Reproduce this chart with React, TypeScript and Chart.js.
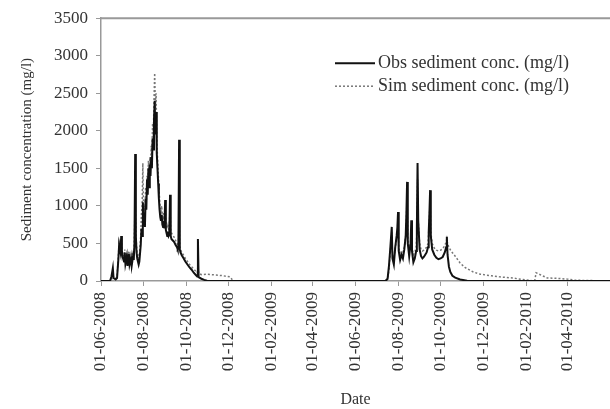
import React, { useEffect, useRef } from "react";
import { Chart, registerables } from "chart.js";

Chart.register(...registerables);

const START_DATE = "01-06-2008";
const END_DAY = 730;

const tickLabels = [
  "01-06-2008", "01-08-2008", "01-10-2008", "01-12-2008",
  "01-02-2009", "01-04-2009", "01-06-2009", "01-08-2009",
  "01-10-2009", "01-12-2009", "01-02-2010", "01-04-2010",
];

const yTicks = [0, 500, 1000, 1500, 2000, 2500, 3000, 3500];

// days since 01-06-2008
const obsDays = [
  0, 13, 15, 17, 18, 21, 23, 25, 26, 28, 29, 30, 31, 33, 34, 35, 37, 38, 40, 41, 43, 44, 46, 47, 48, 49, 50, 51, 52, 54, 55,
  57, 58, 59, 60, 61, 62, 63, 64, 65, 66, 67, 68, 69, 70, 71, 72, 73, 74, 75, 76, 77, 78, 79, 80, 81, 82, 83, 84, 85, 86,
  87, 88, 89, 90, 91, 92, 93, 94, 95, 96, 97, 98, 99, 100, 101, 103, 105, 107, 109, 110, 111, 112, 113, 114, 116, 118, 121,
  124, 127, 130, 133, 136, 138, 139, 140, 144, 148, 152, 158,
  408, 411, 413, 415, 417, 418, 420, 422, 424, 425, 426, 427, 429, 431, 433, 435, 437, 438, 439, 440, 442, 444, 445, 446,
  448, 450, 452, 453, 454, 455, 457, 459, 461, 463, 465, 467, 469, 470, 471, 472, 473, 475, 478, 481, 484, 487, 490, 493,
  495, 496, 497, 499, 501, 504, 508, 515, 525, 535, 730,
];
const obsValues = [
  0, 0, 60, 170, 40, 20, 40, 300, 480, 380, 600, 400, 320, 260, 380, 230, 330, 200, 360, 220, 300, 200, 330, 280, 500, 1690, 600, 380, 300, 220, 260,
  480, 700, 600, 1050, 750, 900, 720, 1100, 950, 1350, 1150, 1500, 1250, 1550, 1400, 1650, 1500, 1900, 1750, 2150, 2400, 1950, 2250, 1700, 1500, 1300, 1100, 950, 850, 800,
  880, 750, 720, 800, 700, 1080, 680, 640, 600, 660, 600, 620, 1150, 600, 560, 540, 520, 480, 450, 420, 430, 1880, 420, 380, 340, 310, 260,
  220, 180, 150, 110, 80, 60, 560, 50, 30, 15, 5, 0,
  0, 30, 200, 450, 720, 300, 220, 450, 600, 700, 920, 400, 280, 350, 300, 420, 600, 900, 1320, 500, 330, 500, 810, 400,
  250, 300, 400, 700, 1570, 800, 420, 330, 300, 320, 350, 380, 450, 650, 900, 1210, 600, 420, 350, 310, 290, 300, 320, 380,
  450, 590, 350, 190, 120, 70, 45, 20, 5, 0, 0,
];

const simDays = [
  0, 15, 17, 18, 21, 23, 25, 26, 28, 29, 30, 31, 33, 34, 35, 37, 38, 40, 41, 43, 44, 46, 47, 48, 49, 50, 51, 52, 54, 55,
  57, 58, 59, 60, 61, 62, 63, 64, 65, 66, 67, 68, 69, 70, 71, 72, 73, 74, 75, 76, 77, 78, 79, 80, 81, 82, 83, 84, 85, 86,
  87, 88, 89, 90, 91, 92, 93, 94, 95, 96, 97, 98, 99, 100, 101, 103, 105, 107, 109, 110, 111, 112, 113, 114, 116, 118, 121,
  124, 127, 130, 133, 136, 138, 139, 140, 144, 152, 165, 175, 185, 188, 192,
  408, 411, 413, 415, 417, 418, 420, 422, 424, 425, 426, 427, 429, 431, 433, 435, 437, 438, 439, 440, 442, 444, 445, 446,
  448, 450, 452, 453, 454, 455, 457, 459, 461, 463, 465, 467, 469, 470, 471, 472, 473, 475, 478, 481, 484, 487, 490, 493,
  495, 496, 497, 499, 502, 508, 515, 522, 534, 544, 560, 572, 590, 605, 618, 621, 622, 624, 640, 655, 669, 680, 730,
];
const simValues = [
  0, 0, 100, 50, 30, 60, 350, 520, 420, 560, 420, 360, 300, 420, 280, 380, 260, 400, 280, 360, 260, 380, 330, 650, 1100, 700, 450, 380, 300, 330,
  600, 900, 1000, 1570, 900, 1000, 850, 1250, 1050, 1400, 1250, 1600, 1400, 1650, 1500, 1800, 1650, 2100, 1900, 2400, 2770, 2300, 2500, 1900, 1650, 1450, 1250, 1100, 980, 920,
  1000, 880, 850, 920, 820, 1000, 780, 740, 700, 740, 690, 700, 1000, 680, 640, 610, 580, 540, 500, 470, 480, 900, 460, 420, 380, 350, 300,
  260, 220, 190, 160, 130, 110, 200, 100, 85, 90, 80, 70, 55, 20, 0,
  0, 20, 150, 400, 650, 350, 280, 450, 550, 650, 850, 450, 350, 400, 380, 450, 600, 800, 1200, 550, 420, 520, 700, 450,
  350, 380, 450, 650, 1350, 800, 500, 420, 400, 410, 430, 450, 500, 650, 850, 1100, 650, 500, 440, 410, 400, 410, 430, 470,
  520, 560, 500, 450, 400, 330, 240, 180, 120, 90, 70, 55, 40, 20, 5, 0, 0, 110, 40, 35, 25, 10, 0, 0,
];

function dayOf(label: string): number {
  const [d, m, y] = label.split("-").map(Number);
  const [d0, m0, y0] = START_DATE.split("-").map(Number);
  return Math.round((Date.UTC(y, m - 1, d) - Date.UTC(y0, m0 - 1, d0)) / 86400000);
}

const tickDays = tickLabels.map(dayOf);

const SERIF = '"Liberation Serif", "Times New Roman", serif';
const TEXT = "#333";

const frameAndLegend = {
  id: "frameAndLegend",
  beforeDatasetsDraw(chart: any) {
    const { ctx, chartArea } = chart;
    ctx.save();
    ctx.strokeStyle = "#999";
    ctx.lineWidth = 2;
    ctx.beginPath();
    ctx.moveTo(chartArea.left, chartArea.top);
    ctx.lineTo(chartArea.right, chartArea.top);
    ctx.stroke();
    ctx.restore();
  },
  afterDraw(chart: any) {
    const { ctx, chartArea } = chart;
    const x0 = chartArea.left + 234;
    const len = 40;
    chart.data.datasets.forEach((ds: any, i: number) => {
      const y = chartArea.top + 45 + i * 23;
      ctx.save();
      ctx.strokeStyle = ds.borderColor;
      ctx.lineWidth = ds.borderWidth;
      ctx.setLineDash(ds.borderDash || []);
      ctx.beginPath();
      ctx.moveTo(x0, y);
      ctx.lineTo(x0 + len, y);
      ctx.stroke();
      ctx.setLineDash([]);
      ctx.fillStyle = TEXT;
      ctx.font = `18px ${SERIF}`;
      ctx.textBaseline = "middle";
      ctx.textAlign = "left";
      ctx.fillText(ds.label, x0 + len + 3, y);
      ctx.restore();
    });
  },
};

export default function App() {
  const ref = useRef<HTMLCanvasElement | null>(null);

  useEffect(() => {
    if (!ref.current) return;
    const chart = new Chart(ref.current, {
      type: "line",
      data: {
        datasets: [
          {
            label: "Obs sediment conc. (mg/l)",
            data: obsDays.map((d, i) => ({ x: d, y: obsValues[i] })),
            borderColor: "#111",
            borderWidth: 2,
            pointRadius: 0,
            tension: 0,
            fill: false,
          },
          {
            label: "Sim sediment conc. (mg/l)",
            data: simDays.map((d, i) => ({ x: d, y: simValues[i] })),
            borderColor: "#777",
            borderWidth: 1.5,
            borderDash: [2, 2],
            pointRadius: 0,
            tension: 0,
            fill: false,
          },
        ],
      },
      options: {
        animation: false,
        responsive: false,
        maintainAspectRatio: false,
        layout: { padding: { top: 18, right: 0, left: 0, bottom: 0 } },
        plugins: { legend: { display: false }, tooltip: { enabled: false } },
        scales: {
          x: {
            type: "linear",
            min: 0,
            max: END_DAY,
            afterBuildTicks: (scale: any) => {
              scale.ticks = tickDays.map((v) => ({ value: v }));
            },
            afterFit: (scale: any) => {
              scale.height = 128;
            },
            ticks: {
              autoSkip: false,
              minRotation: 90,
              maxRotation: 90,
              padding: 6,
              color: TEXT,
              font: { family: SERIF, size: 17 },
              callback: (_v: any, i: number) => tickLabels[i],
            },
            grid: { drawOnChartArea: false, drawTicks: true, tickLength: 5, color: "#999" },
            border: { color: "#999", width: 1.5 },
            title: {
              display: true,
              text: "Date",
              color: TEXT,
              font: { family: SERIF, size: 16 },
              padding: { top: 0, bottom: 0 },
            },
          },
          y: {
            min: 0,
            max: 3500,
            afterBuildTicks: (scale: any) => {
              scale.ticks = yTicks.map((v) => ({ value: v }));
            },
            afterFit: (scale: any) => {
              scale.width = 101;
            },
            ticks: {
              padding: 8,
              color: TEXT,
              font: { family: SERIF, size: 17 },
              callback: (v: any) => String(v),
            },
            grid: { drawOnChartArea: false, drawTicks: true, tickLength: 5, color: "#999" },
            border: { color: "#999", width: 1.5 },
            title: {
              display: true,
              text: "Sediment concentration (mg/l)",
              color: TEXT,
              font: { family: SERIF, size: 15 },
              padding: { top: 18, bottom: 0 },
            },
          },
        },
      },
      plugins: [frameAndLegend],
    });
    return () => chart.destroy();
  }, []);

  return (
    <div style={{ position: "fixed", left: 0, top: 0, width: 610, height: 409, background: "#fff" }}>
      <canvas ref={ref} width={610} height={409} style={{ display: "block", width: 610, height: 409 }} />
    </div>
  );
}
